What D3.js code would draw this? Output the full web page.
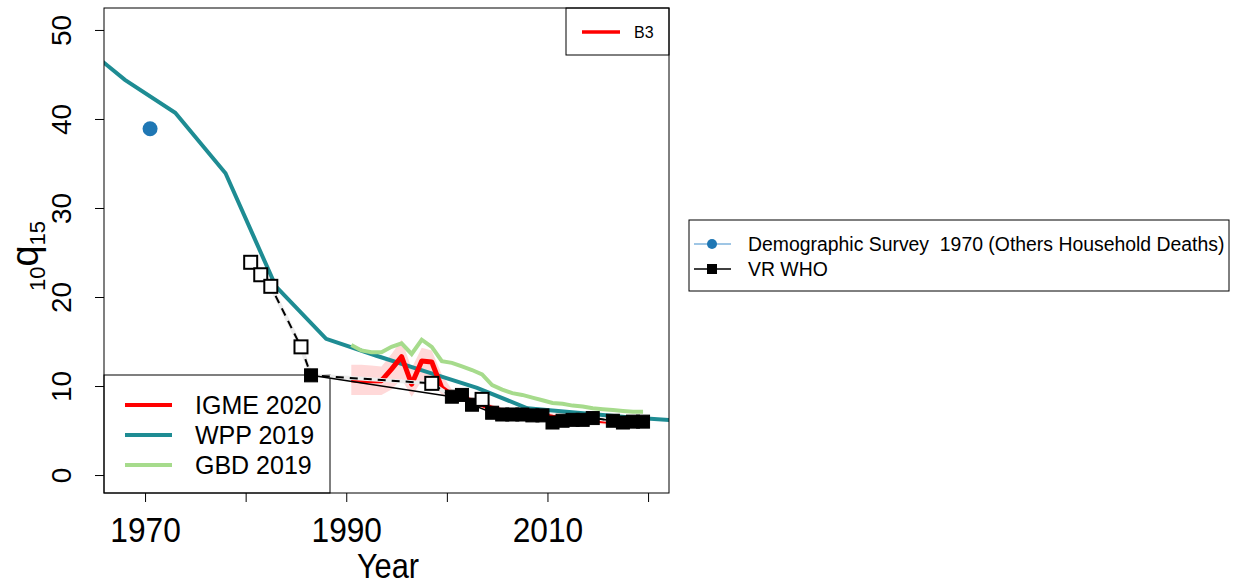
<!DOCTYPE html>
<html>
<head>
<meta charset="utf-8">
<script src="https://cdn.jsdelivr.net/npm/d3@7"></script>
<style>
  body { margin: 0; background: #fff; }
  svg text { font-family: "Liberation Sans", Arial, sans-serif; fill: #000; }
</style>
</head>
<body>
<div id="chart"></div>
<script>
// WPP 2019, 5-year estimates
var wppYears = [1963, 1968, 1973, 1978, 1983, 1988, 1993, 1998, 2003, 2008, 2013, 2018, 2023];
var wppValues = [49.0, 44.4, 40.7, 33.9, 21.2, 15.3, 13.4, 11.6, 9.8, 7.5, 7.0, 6.5, 6.1];

// annual series 1990-2019
var annualYears = d3.range(1990, 2020);
var gbdValues = [14.6, 14.0, 13.8, 13.8, 14.4, 14.8, 13.6, 15.2, 14.4, 12.8, 12.6, 12.2, 11.8, 11.3, 10.1,
  9.6, 9.2, 9.0, 8.7, 8.4, 8.1, 8.0, 7.8, 7.7, 7.5, 7.4, 7.3, 7.2, 7.1, 7.1];
var igmeValues = [10.7, 10.6, 10.6, 10.6, 11.9, 13.3, 10.2, 12.8, 12.7, 9.8, 9.0, 8.7, 8.3, 7.9, 7.5,
  7.2, 7.0, 6.9, 6.8, 6.7, 6.5, 6.4, 6.3, 6.2, 6.2, 6.1, 6.0, 6.0, 5.9, 5.9];
var igmeLower = [9.0, 9.0, 9.0, 9.0, 9.6, 10.8, 8.8, 10.6, 10.6, 9.0, 8.5, 8.3, 7.9, 7.5, 7.1,
  6.8, 6.6, 6.5, 6.4, 6.3, 6.1, 6.0, 5.9, 5.8, 5.8, 5.7, 5.6, 5.6, 5.5, 5.5];
var igmeUpper = [12.4, 12.4, 12.3, 12.2, 13.6, 15.2, 12.0, 14.3, 14.0, 11.3, 9.6, 9.1, 8.7, 8.3, 7.9,
  7.6, 7.4, 7.3, 7.2, 7.1, 6.9, 6.8, 6.7, 6.6, 6.6, 6.5, 6.4, 6.4, 6.3, 6.3];

// VR WHO data, 1 = included (filled), 0 = excluded (open)
var vrYears = [1980, 1981, 1982, 1985, 1986, 1998, 2000, 2001, 2002, 2003, 2004, 2005, 2006, 2007, 2008,
  2009, 2010, 2011, 2012, 2013, 2014, 2016, 2017, 2018, 2019];
var vrValues = [23.9, 22.5, 21.2, 14.4, 11.2, 10.3, 8.8, 9.0, 7.9, 8.5, 7.0, 6.8, 6.8, 6.8, 6.7,
  6.7, 5.9, 6.1, 6.2, 6.2, 6.4, 6.1, 5.9, 6.0, 6.0];
var vrIncluded = [0, 0, 0, 0, 1, 0, 1, 1, 1, 0, 1, 1, 1, 1, 1, 1, 1, 1, 1, 1, 1, 1, 1, 1, 1];

// Demographic survey point
var surveyYears = [1970];
var surveyValues = [38.9];

var xTicks = [1970, 1980, 1990, 2000, 2010, 2020];
var xLabels = [1970, 1990, 2010];
var yTicks = [0, 10, 20, 30, 40, 50];

var colIgme = "#ff0000", colWpp = "#1e8c93", colGbd = "#a6db8c", colSurvey = "#1f77b4";

var width = 1234, height = 586;
var plot = { left: 104, right: 669, top: 8, bottom: 493 };

// R style axis range: data limits extended by 4%
function extend(lim) {
  var r = lim[1] - lim[0];
  return [lim[0] - 0.04 * r, lim[1] + 0.04 * r];
}

var xScale = d3.scaleLinear().domain(extend([1968, 2020])).range([plot.left, plot.right]);
var yScale = d3.scaleLinear().domain(extend([0, 50.45])).range([plot.bottom, plot.top]);
var mid = 0.5; // annual values plotted at mid-year

var svg = d3.select("#chart").append("svg").attr("width", width).attr("height", height);

svg.append("clipPath").attr("id", "clip")
  .append("rect")
  .attr("x", plot.left).attr("y", plot.top)
  .attr("width", plot.right - plot.left).attr("height", plot.bottom - plot.top);

var g = svg.append("g").attr("clip-path", "url(#clip)");

// IGME uncertainty band
var band = d3.area()
  .x(function (d, i) { return xScale(annualYears[i] + mid); })
  .y0(function (d, i) { return yScale(igmeLower[i]); })
  .y1(function (d, i) { return yScale(igmeUpper[i]); });
g.append("path").datum(igmeLower).attr("d", band)
  .style("fill", "rgba(255, 0, 0, 0.15)");

function linePath(years, values, off) {
  return d3.line()
    .x(function (d, i) { return xScale(years[i] + off); })
    .y(function (d) { return yScale(d); })(values);
}

g.append("path").attr("d", linePath(wppYears, wppValues, 0))
  .style("fill", "none").style("stroke", colWpp).style("stroke-width", 4);
g.append("path").attr("d", linePath(annualYears, gbdValues, mid))
  .style("fill", "none").style("stroke", colGbd).style("stroke-width", 4);
g.append("path").attr("d", linePath(annualYears, igmeValues, mid))
  .style("fill", "none").style("stroke", colIgme).style("stroke-width", 5)
  .style("stroke-linejoin", "round");

// survey point
g.selectAll("circle.survey")
  .data(surveyValues)
  .enter()
  .append("circle")
  .attr("cx", function (d, i) { return xScale(surveyYears[i] + mid); })
  .attr("cy", function (d) { return yScale(d); })
  .attr("r", 7.5)
  .style("fill", colSurvey);

// bottom-left legend (drawn before VR points, which sit on top of it)
var leg1 = svg.append("g");
leg1.append("rect")
  .attr("x", plot.left).attr("y", 375)
  .attr("width", 330 - plot.left).attr("height", plot.bottom - 375)
  .style("fill", "#fff").style("stroke", "#000").style("stroke-width", 1);
var leg1Items = [["IGME 2020", colIgme], ["WPP 2019", colWpp], ["GBD 2019", colGbd]];
leg1Items.forEach(function (d, i) {
  var yy = 405 + i * 30;
  leg1.append("line").attr("x1", 125).attr("x2", 172).attr("y1", yy).attr("y2", yy)
    .style("stroke", d[1]).style("stroke-width", 4);
  leg1.append("text").attr("x", 195).attr("y", yy + 9).text(d[0]).style("font-size", "25px");
});

// VR lines: light line and dashed line through all points, solid line through included ones
var vrAll = vrValues.map(function (d, i) { return [vrYears[i] + mid, d]; });
var vrIn = vrAll.filter(function (d, i) { return vrIncluded[i] == 1; });
var vrLine = d3.line()
  .x(function (d) { return xScale(d[0]); })
  .y(function (d) { return yScale(d[1]); });
var gv = svg.append("g").attr("clip-path", "url(#clip)");
gv.append("path").attr("d", vrLine(vrAll))
  .style("fill", "none").style("stroke", "#ececec").style("stroke-width", 4);
gv.append("path").attr("d", vrLine(vrAll))
  .style("fill", "none").style("stroke", "#000").style("stroke-width", 2)
  .style("stroke-dasharray", "8,6");
gv.append("path").attr("d", vrLine(vrIn))
  .style("fill", "none").style("stroke", "#000").style("stroke-width", 1.5);

var sq = 13;
gv.selectAll("rect.vr")
  .data(vrValues)
  .enter()
  .append("rect")
  .attr("x", function (d, i) { return xScale(vrYears[i] + mid) - sq / 2; })
  .attr("y", function (d) { return yScale(d) - sq / 2; })
  .attr("width", sq).attr("height", sq)
  .style("fill", function (d, i) { return vrIncluded[i] ? "#000" : "#fff"; })
  .style("stroke", "#000").style("stroke-width", function (d, i) { return vrIncluded[i] ? 1 : 2; });

// B3 legend, top right
var leg2 = svg.append("g");
leg2.append("rect").attr("x", 566).attr("y", plot.top).attr("width", plot.right - 566).attr("height", 55 - plot.top)
  .style("fill", "#fff").style("stroke", "#000").style("stroke-width", 1);
leg2.append("line").attr("x1", 582).attr("x2", 620).attr("y1", 32).attr("y2", 32)
  .style("stroke", colIgme).style("stroke-width", 3.5);
leg2.append("text").attr("x", 634).attr("y", 38).text("B3").style("font-size", "16px");

// plot frame
svg.append("rect")
  .attr("x", plot.left).attr("y", plot.top)
  .attr("width", plot.right - plot.left).attr("height", plot.bottom - plot.top)
  .style("fill", "none").style("stroke", "#000").style("stroke-width", 1);

// axes
var xAxis = svg.append("g").attr("transform", "translate(0," + plot.bottom + ")")
  .call(d3.axisBottom(xScale).tickValues(xTicks).tickSize(9).tickSizeOuter(0)
    .tickFormat(function (d) { return xLabels.includes(d) ? d : ""; }));
xAxis.select(".domain").remove();
xAxis.selectAll("text")
  .attr("y", 49).attr("dy", null)
  .attr("transform", "scale(0.88,1)")
  .style("font-size", "36px").style("font-family", "Liberation Sans, Arial, sans-serif");

var yAxis = svg.append("g").attr("transform", "translate(" + plot.left + ",0)")
  .call(d3.axisLeft(yScale).tickValues(yTicks).tickSize(9).tickSizeOuter(0));
yAxis.select(".domain").remove();
yAxis.selectAll("text")
  .attr("x", null).attr("dy", null)
  .attr("transform", "translate(-33,0) rotate(-90)")
  .attr("text-anchor", "middle")
  .style("font-size", "28px").style("font-family", "Liberation Sans, Arial, sans-serif");

svg.append("text").attr("transform", "translate(388,578) scale(0.88,1)").attr("text-anchor", "middle")
  .text("Year").style("font-size", "35px");

// y label: 10 q 15 with subscripts
var ylab = svg.append("text")
  .attr("transform", "translate(38,256) rotate(-90)")
  .attr("text-anchor", "middle");
ylab.append("tspan").text("10").style("font-size", "22px").attr("dy", 7);
ylab.append("tspan").text("q").style("font-size", "38px").attr("dy", -7);
ylab.append("tspan").text("15").style("font-size", "22px").attr("dy", 7);

// right legend
var leg3 = svg.append("g");
leg3.append("rect").attr("x", 689).attr("y", 220).attr("width", 1229 - 689).attr("height", 71)
  .style("fill", "#fff").style("stroke", "#000").style("stroke-width", 1);
leg3.append("line").attr("x1", 694).attr("x2", 731).attr("y1", 244).attr("y2", 244)
  .style("stroke", "#7fb3dc").style("stroke-width", 1.5);
leg3.append("circle").attr("cx", 712).attr("cy", 244).attr("r", 5).style("fill", colSurvey);
leg3.append("text").attr("x", 748).attr("y", 251)
  .text("Demographic Survey\u00a0 1970 (Others Household Deaths)").style("font-size", "19.4px");
leg3.append("line").attr("x1", 694).attr("x2", 731).attr("y1", 269).attr("y2", 269)
  .style("stroke", "#000").style("stroke-width", 1.5);
leg3.append("rect").attr("x", 707).attr("y", 264).attr("width", 10).attr("height", 10).style("fill", "#000");
leg3.append("text").attr("x", 748).attr("y", 276).text("VR WHO").style("font-size", "19.4px");
</script>
</body>
</html>
